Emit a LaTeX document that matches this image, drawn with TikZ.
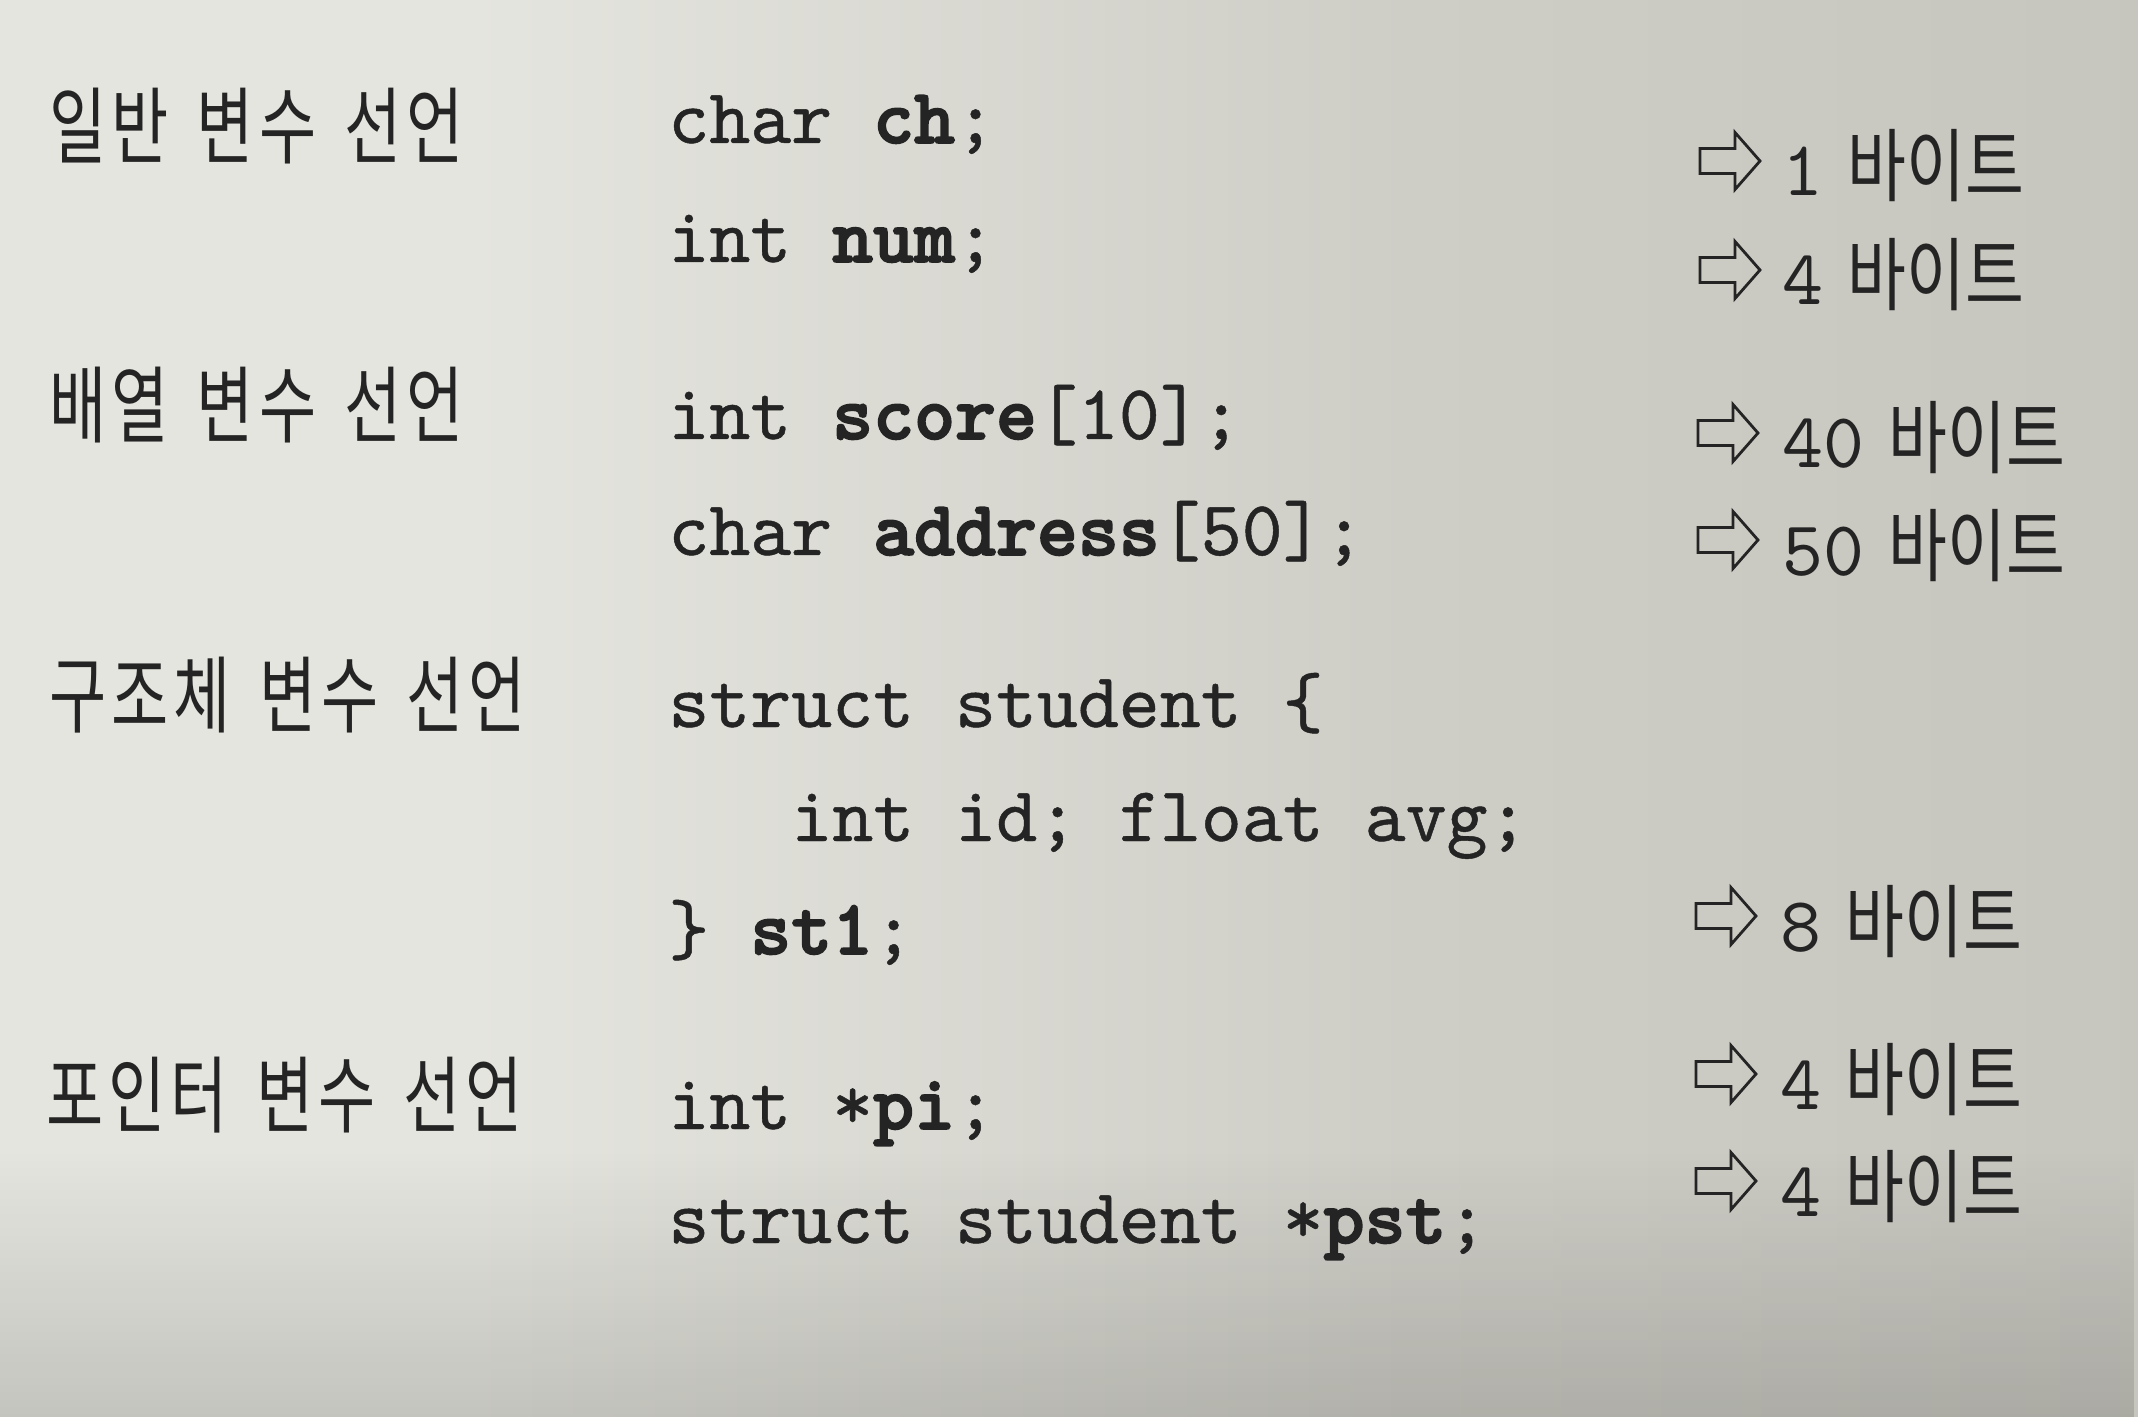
\documentclass[tikz,border=0pt]{standalone}
\usepackage{fontspec}
\usetikzlibrary{fadings}
\newfontfamily\krL{Noto Sans CJK KR}[FakeStretch=0.74, LetterSpace=6]
\newfontfamily\krR{Noto Sans CJK KR}[FakeStretch=0.80]
\newfontfamily\codefont{lmmono10-regular}[Extension=.otf, BoldFont=lmmonolt10-bold,
  UprightFeatures={FakeBold=0.6}, BoldFeatures={FakeBold=2.2}]
\newfontfamily\digitfont{lmmono10-regular}[Extension=.otf]
\definecolor{ink}{RGB}{36,36,36}
\definecolor{bgA}{RGB}{229,229,223}
\definecolor{bgB}{RGB}{206,205,198}
\definecolor{bgC}{RGB}{188,187,179}
\pgfdeclarehorizontalshading{pagebg}{100bp}{color(0bp)=(bgA); color(36bp)=(bgA); color(58bp)=(bgB); color(100bp)=(bgC)}
\newcommand\wgap{\hspace{14pt}}
\newcommand\bytelbl[1]{{\digitfont\fontsize{39pt}{39pt}\selectfont #1}\hspace{12pt}{\krR\fontsize{40pt}{40pt}\selectfont 바이트}}
\tikzset{
  lbl/.style={anchor=base west, inner sep=0pt, text=ink, font=\krL\fontsize{42pt}{42pt}\selectfont},
  codeln/.style={anchor=base west, inner sep=0pt, text=ink, font=\codefont\fontsize{39pt}{39pt}\selectfont},
  sizelbl/.style={anchor=base west, inner sep=0pt, text=ink},
  pics/hollowarrow/.style={code={
    \draw[draw=ink, line width=1.4pt, line join=miter]
      (0,-12.5) -- (35,-12.5) -- (35,-28.5) -- (60,0) -- (35,28.5) -- (35,12.5) -- (0,12.5) -- cycle;}}
}
\begin{document}
\begin{tikzpicture}[x=0.5pt,y=-0.5pt]
\useasboundingbox (0,0) rectangle (2138,1417);
\path[shading=pagebg] (0,0) rectangle (2138,1417);
\fill[black, opacity=0.14, path fading=north] (0,1150) rectangle (2138,1417);

% left labels
\node[lbl] (l1) at (49,158) {일반\wgap 변수\wgap 선언};
\node[lbl] (l2) at (49,437) {배열\wgap 변수\wgap 선언};
\node[lbl] (l3) at (49,726) {구조체\wgap 변수\wgap 선언};
\node[lbl] (l4) at (46,1126) {포인터\wgap 변수\wgap 선언};

% code
\node[codeln] (c1) at (668,143) {char \textbf{ch};};
\node[codeln] (c2) at (668,262) {int \textbf{num};};
\node[codeln] (c3) at (668,439) {int \textbf{score}[10];};
\node[codeln] (c4) at (668,555) {char \textbf{address}[50];};
\node[codeln] (c5) at (668,727) {struct student \{};
\node[codeln] (c6) at (791,841) {int id; float avg;};
\node[codeln] (c7) at (668,954) {\} \textbf{st1};};
\node[codeln] (c8) at (668,1129) {int *\textbf{pi};};
\node[codeln] (c9) at (668,1243) {struct student *\textbf{pst};};

% sizes
\pic at (1700,161) {hollowarrow};
\node[sizelbl] (s1) at (1782,196) {\bytelbl{1}};
\pic at (1700,270) {hollowarrow};
\node[sizelbl] (s2) at (1782,305) {\bytelbl{4}};
\pic at (1698,433) {hollowarrow};
\node[sizelbl] (s3) at (1782,468) {\bytelbl{40}};
\pic at (1698,540) {hollowarrow};
\node[sizelbl] (s4) at (1782,575) {\bytelbl{50}};
\pic at (1696,916) {hollowarrow};
\node[sizelbl] (s5) at (1780,951) {\bytelbl{8}};
\pic at (1696,1074) {hollowarrow};
\node[sizelbl] (s6) at (1780,1109) {\bytelbl{4}};
\pic at (1696,1181) {hollowarrow};
\node[sizelbl] (s7) at (1780,1216) {\bytelbl{4}};
\end{tikzpicture}
\end{document}
